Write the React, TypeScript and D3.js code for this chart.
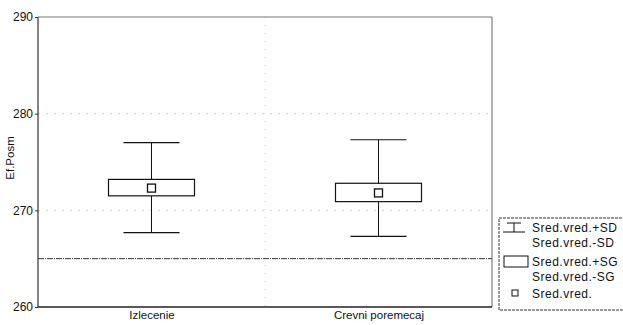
import { useEffect, useRef } from "react";
import * as d3 from "d3";

const categories = ["Izlecenie", "Crevni poremecaj"];
const means = [272.3, 271.8];
const sgHigh = [273.2, 272.8];
const sgLow = [271.5, 270.9];
const sdHigh = [277.0, 277.3];
const sdLow = [267.7, 267.3];
const refValue = 265;
const yTicks = [260, 270, 280, 290];
const gridValues = [270, 280];
const legendLabels = [
  ["Sred.vred.+SD", "Sred.vred.-SD"],
  ["Sred.vred.+SG", "Sred.vred.-SG"],
  ["Sred.vred."],
];

const W = 623;
const H = 325;

const App = () => {
  const svgRef = useRef<SVGSVGElement>(null);

  useEffect(() => {
    const svg = d3.select(svgRef.current);
    svg.selectAll("*").remove();

    const margin = { top: 17, right: 131, bottom: 18, left: 38 };
    const innerW = W - margin.left - margin.right;
    const innerH = H - margin.top - margin.bottom;
    const font = "'Liberation Sans', Arial, sans-serif";

    const x = d3.scalePoint<string>().domain(categories).range([0, innerW]).padding(0.5);
    const y = d3.scaleLinear().domain([260, 290]).range([innerH, 0]);

    const g = svg.append("g").attr("transform", `translate(${margin.left},${margin.top})`);

    // faint dotted grid (scan-like)
    g.selectAll(".grid")
      .data(gridValues)
      .join("line")
      .attr("x1", 0)
      .attr("x2", innerW)
      .attr("y1", (d) => y(d))
      .attr("y2", (d) => y(d))
      .attr("stroke", "#d0d0d0")
      .attr("stroke-dasharray", "2,6");
    g.append("line")
      .attr("x1", innerW / 2)
      .attr("x2", innerW / 2)
      .attr("y1", 0)
      .attr("y2", innerH)
      .attr("stroke", "#d4d4d4")
      .attr("stroke-dasharray", "1,7");

    // frame
    g.append("line").attr("x1", 0).attr("x2", innerW).attr("y1", 0).attr("y2", 0)
      .attr("stroke", "#777").attr("stroke-width", 1);
    g.append("line").attr("x1", innerW).attr("x2", innerW).attr("y1", 0).attr("y2", innerH)
      .attr("stroke", "#666").attr("stroke-width", 1);
    g.append("line").attr("x1", 0).attr("x2", innerW).attr("y1", innerH).attr("y2", innerH)
      .attr("stroke", "#222").attr("stroke-width", 1.4);
    g.append("line").attr("x1", 0).attr("x2", 0).attr("y1", 0).attr("y2", innerH)
      .attr("stroke", "#333").attr("stroke-width", 1.2);

    // y axis
    const yAxis = d3.axisLeft(y).tickValues(yTicks).tickSize(3).tickPadding(2);
    const ya = g.append("g").call(yAxis);
    ya.select(".domain").remove();
    ya.selectAll("line").attr("stroke", "#333");
    ya.selectAll("text").attr("font-family", font).attr("font-size", 12).attr("fill", "#111");

    // x axis labels
    const xAxis = d3.axisBottom(x).tickSize(0).tickPadding(4);
    const xa = g.append("g").attr("transform", `translate(0,${innerH})`).call(xAxis);
    xa.select(".domain").remove();
    xa.selectAll("text").attr("font-family", font).attr("font-size", 11.5).attr("fill", "#111");

    // axis title
    g.append("text")
      .attr("transform", `translate(${-24},${innerH / 2 - 4}) rotate(-90)`)
      .attr("text-anchor", "middle")
      .attr("font-family", font)
      .attr("font-size", 11.5)
      .attr("fill", "#111")
      .text("Ef.Posm");

    // reference line
    g.append("line")
      .attr("x1", 0)
      .attr("x2", innerW)
      .attr("y1", y(refValue))
      .attr("y2", y(refValue))
      .attr("stroke", "#333")
      .attr("stroke-width", 1)
      .attr("stroke-dasharray", "6,1,1,1");

    const boxHalf = 43;
    const capHalf = 28;

    categories.forEach((c, i) => {
      const cx = x(c) as number;
      // whisker
      g.append("line").attr("x1", cx).attr("x2", cx)
        .attr("y1", y(sdHigh[i])).attr("y2", y(sgHigh[i])).attr("stroke", "#111");
      g.append("line").attr("x1", cx).attr("x2", cx)
        .attr("y1", y(sgLow[i])).attr("y2", y(sdLow[i])).attr("stroke", "#111");
      [sdHigh[i], sdLow[i]].forEach((v) => {
        g.append("line").attr("x1", cx - capHalf).attr("x2", cx + capHalf)
          .attr("y1", y(v)).attr("y2", y(v)).attr("stroke", "#111").attr("stroke-width", 1.2);
      });
      // box
      g.append("rect")
        .attr("x", cx - boxHalf)
        .attr("y", y(sgHigh[i]))
        .attr("width", boxHalf * 2)
        .attr("height", y(sgLow[i]) - y(sgHigh[i]))
        .attr("fill", "#fff")
        .attr("stroke", "#111")
        .attr("stroke-width", 1.2);
      // mean
      g.append("rect")
        .attr("x", cx - 4)
        .attr("y", y(means[i]) - 4)
        .attr("width", 8)
        .attr("height", 8)
        .attr("fill", "#fff")
        .attr("stroke", "#111")
        .attr("stroke-width", 1.3);
    });

    // legend
    const lg = svg.append("g").attr("transform", "translate(499,218)");
    lg.append("rect")
      .attr("x", 0)
      .attr("y", 0)
      .attr("width", 130)
      .attr("height", 92)
      .attr("fill", "#fff")
      .attr("stroke", "#333")
      .attr("stroke-dasharray", "3,1");

    const textX = 33;
    // whisker icon
    lg.append("line").attr("x1", 8).attr("x2", 22).attr("y1", 5).attr("y2", 5).attr("stroke", "#111");
    lg.append("line").attr("x1", 15).attr("x2", 15).attr("y1", 5).attr("y2", 14).attr("stroke", "#111");
    lg.append("line").attr("x1", 4).attr("x2", 26).attr("y1", 14).attr("y2", 14).attr("stroke", "#111");
    // box icon
    lg.append("rect").attr("x", 5).attr("y", 38).attr("width", 24).attr("height", 11)
      .attr("fill", "#fff").attr("stroke", "#111");
    // mean icon
    lg.append("rect").attr("x", 13).attr("y", 72).attr("width", 6).attr("height", 6)
      .attr("fill", "#fff").attr("stroke", "#111");

    const rowY = [[14, 29], [48, 63], [80]];
    legendLabels.forEach((rows, i) => {
      rows.forEach((t, j) => {
        lg.append("text")
          .attr("x", textX)
          .attr("y", rowY[i][j])
          .attr("font-family", font)
          .attr("font-size", 12)
          .attr("letter-spacing", 0.5)
          .attr("fill", "#111")
          .text(t);
      });
    });
  }, []);

  return (
    <svg
      ref={svgRef}
      width={W}
      height={H}
      style={{ position: "absolute", left: 0, top: 0, background: "#fff" }}
    />
  );
};

export default App;
